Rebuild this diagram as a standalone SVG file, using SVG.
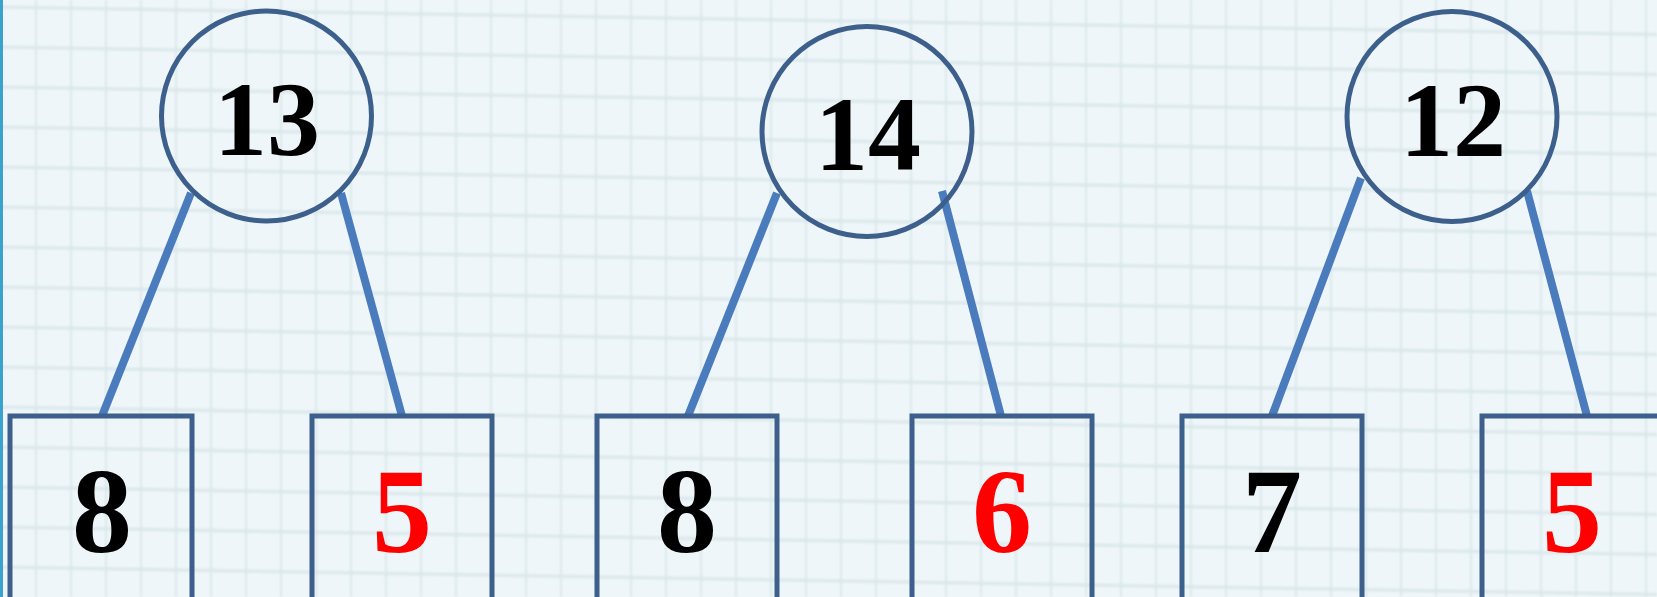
<svg xmlns="http://www.w3.org/2000/svg" width="1657" height="597" viewBox="0 0 1657 597">
  <style>
    .circ { fill: none; stroke: #3c5f8c; stroke-width: 5; }
    .box { fill: none; stroke: #3c5f8c; stroke-width: 5; }
    .conn { stroke: #4a7bbd; stroke-width: 8; }
  </style>
  <defs>
    <pattern id="grid" width="35" height="40" patternUnits="userSpaceOnUse" patternTransform="skewY(0.95)">
      <rect width="35" height="40" fill="#eff6f9"/>
      <line x1="0.5" y1="0" x2="0.5" y2="40" stroke="#d9e7ea" stroke-width="3"/>
      <line x1="0" y1="7" x2="35" y2="7" stroke="#d9e7ea" stroke-width="3"/>
    </pattern>
    <filter id="soft" x="0" y="0" width="1" height="1">
      <feGaussianBlur stdDeviation="1"/>
    </filter>
  </defs>
  <rect x="0" y="0" width="1657" height="597" fill="#eff6f9"/>
  <rect x="0" y="0" width="1657" height="597" fill="url(#grid)" filter="url(#soft)"/>
  <rect x="0" y="0" width="3" height="597" fill="#3aa2cc"/>

  <g id="connectors">
    <line class="conn" x1="191" y1="193" x2="102" y2="416"/>
    <line class="conn" x1="341" y1="193" x2="402" y2="416"/>
    <line class="conn" x1="777" y1="193" x2="688" y2="416"/>
    <line class="conn" x1="942" y1="191" x2="1001" y2="416"/>
    <line class="conn" x1="1361" y1="178" x2="1272" y2="416"/>
    <line class="conn" x1="1527" y1="191" x2="1587" y2="416"/>
  </g>

  <g font-family="Liberation Serif, Times New Roman, serif" font-weight="bold" text-anchor="middle">
    <g id="node-13">
      <circle class="circ" cx="266.5" cy="116" r="105"/>
      <text x="267" y="155" font-size="106" fill="#000">13</text>
    </g>
    <g id="node-14">
      <circle class="circ" cx="867" cy="131.5" r="105"/>
      <text x="868" y="170" font-size="106" fill="#000">14</text>
    </g>
    <g id="node-12">
      <circle class="circ" cx="1452" cy="116.5" r="105"/>
      <text x="1453" y="156" font-size="106" fill="#000">12</text>
    </g>

    <g id="box-8a">
      <rect class="box" x="10" y="416" width="182" height="200"/>
      <text x="102" y="552" font-size="120" fill="#000">8</text>
    </g>
    <g id="box-5a">
      <rect class="box" x="312" y="416" width="180" height="200"/>
      <text x="402" y="552" font-size="120" fill="#ff0000">5</text>
    </g>
    <g id="box-8b">
      <rect class="box" x="597" y="416" width="180" height="200"/>
      <text x="687" y="552" font-size="120" fill="#000">8</text>
    </g>
    <g id="box-6">
      <rect class="box" x="912" y="416" width="180" height="200"/>
      <text x="1002" y="552" font-size="120" fill="#ff0000">6</text>
    </g>
    <g id="box-7">
      <rect class="box" x="1182" y="416" width="180" height="200"/>
      <text x="1272" y="552" font-size="120" fill="#000">7</text>
    </g>
    <g id="box-5b">
      <rect class="box" x="1482" y="416" width="180" height="200"/>
      <text x="1572" y="552" font-size="120" fill="#ff0000">5</text>
    </g>
  </g>
</svg>
